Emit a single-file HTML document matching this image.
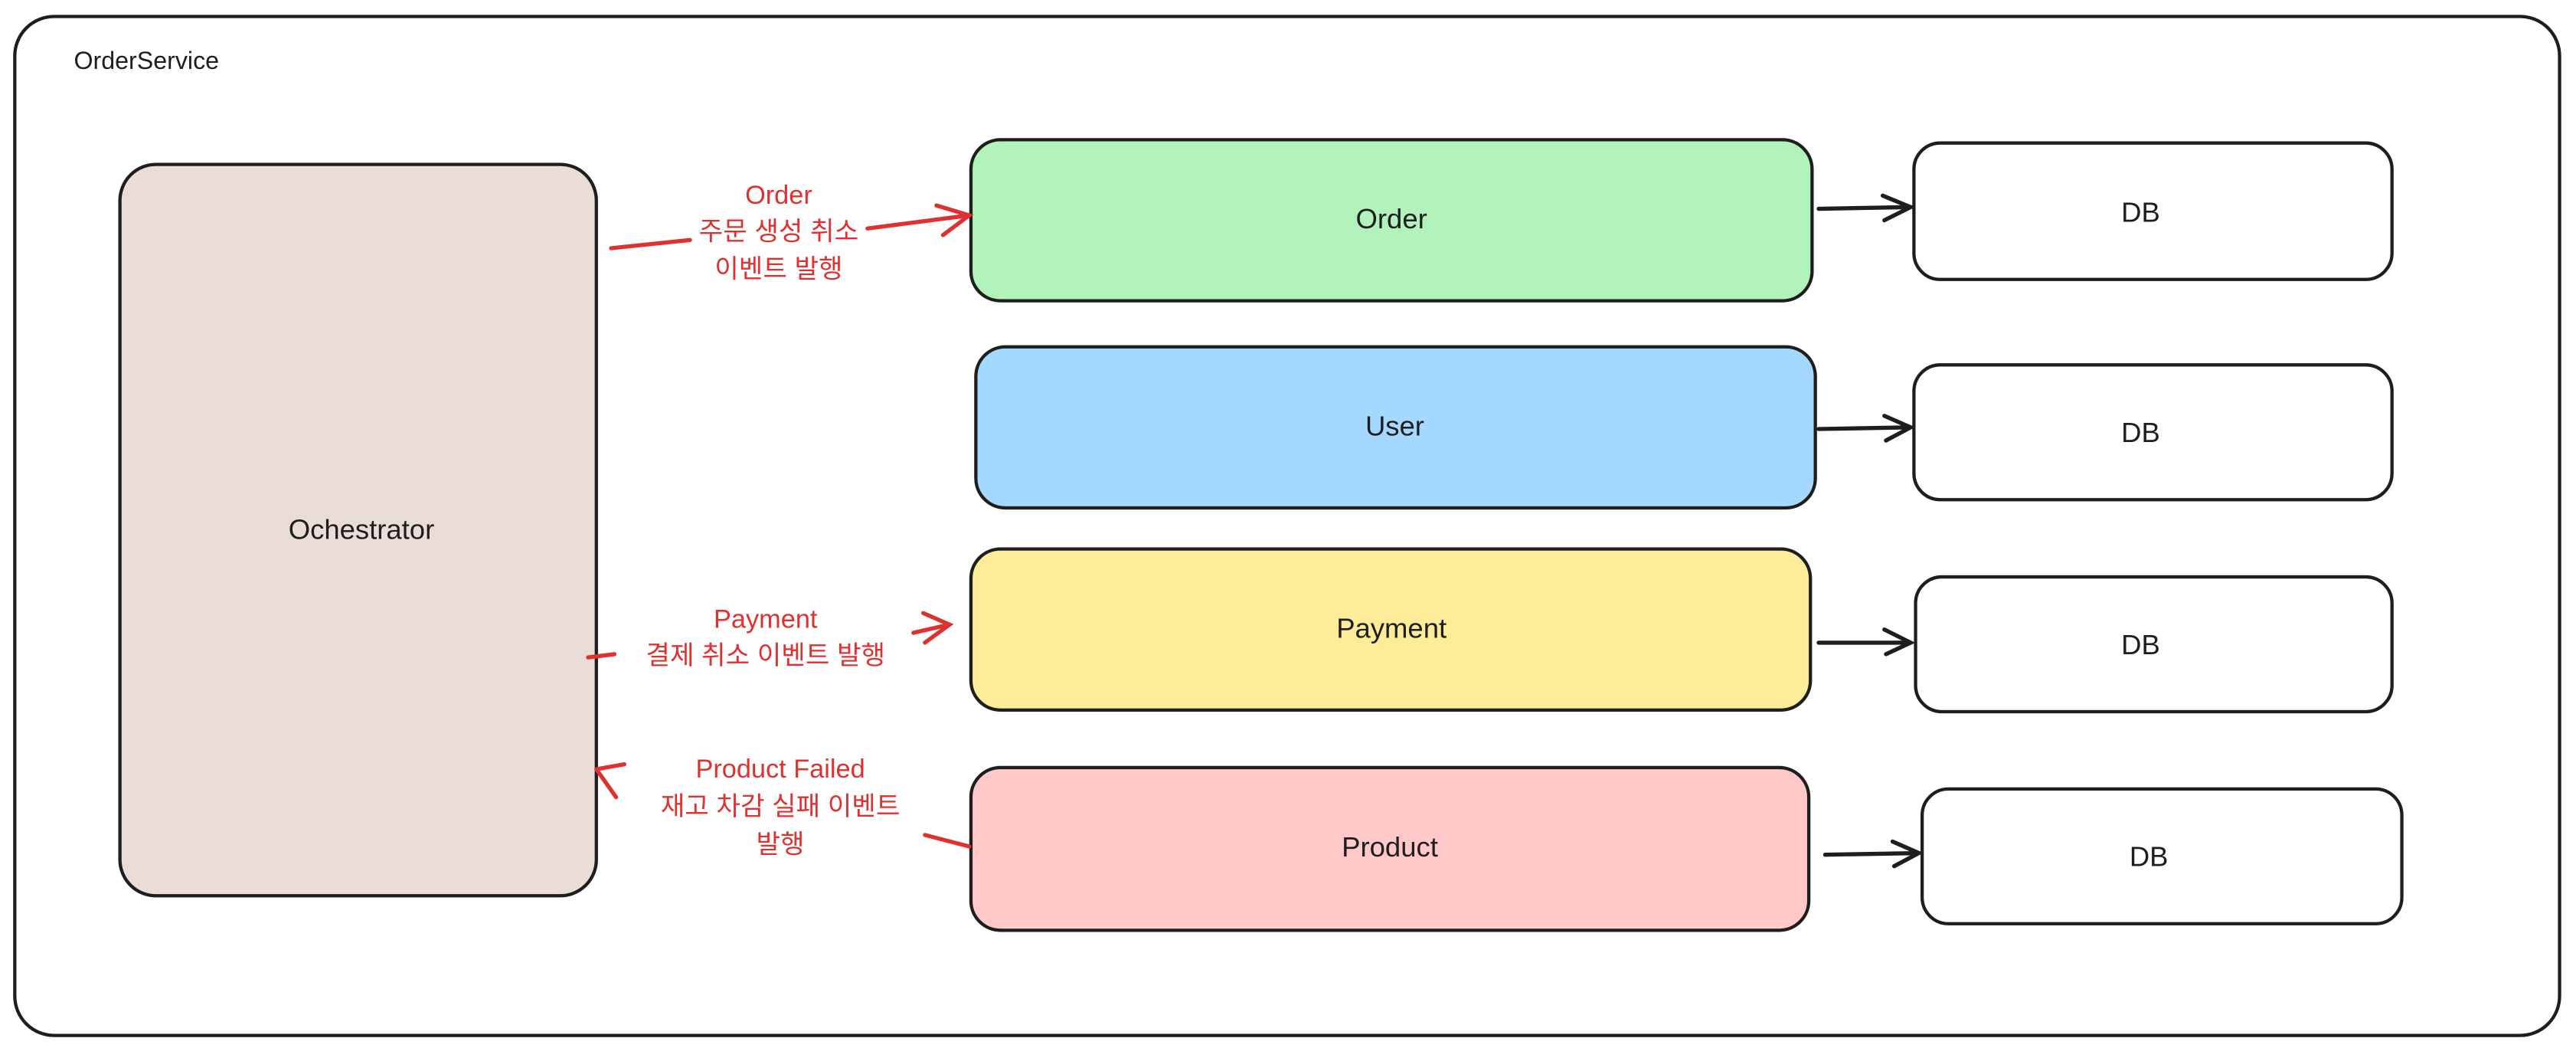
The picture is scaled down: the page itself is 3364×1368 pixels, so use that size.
<!DOCTYPE html>
<html><head><meta charset="utf-8"><style>
html,body{margin:0;padding:0;background:#fff;}
svg{display:block}
text{font-family:"Liberation Sans","Noto Sans CJK KR",sans-serif;}
</style></head><body>
<svg width="3364" height="1368" viewBox="0 0 1568 637.6" xmlns="http://www.w3.org/2000/svg">
<g fill="none" stroke="#1e1e1e" stroke-width="2">
<rect x="9" y="10" width="1549" height="620" rx="24" fill="#fff"/>
<rect x="73" y="100" width="290" height="445" rx="22" fill="#eaddd7"/>
<rect x="591" y="85" width="512" height="98" rx="18" fill="#b2f2bb"/>
<rect x="594" y="211" width="511" height="98" rx="18" fill="#a5d8ff"/>
<rect x="591" y="334" width="511" height="98" rx="18" fill="#ffec99"/>
<rect x="591" y="467" width="510" height="99" rx="18" fill="#ffc9c9"/>
<rect x="1165" y="87" width="291" height="83" rx="16" fill="#fff"/>
<rect x="1165" y="222" width="291" height="82" rx="16" fill="#fff"/>
<rect x="1166" y="351" width="290" height="82" rx="16" fill="#fff"/>
<rect x="1170" y="480" width="292" height="82" rx="16" fill="#fff"/>
</g>
<g fill="none" stroke="#1e1e1e" stroke-width="2.5" stroke-linecap="round">
<path d="M1107 127 L1163 126 M1146 119 L1163 126 L1147 134"/>
<path d="M1107 261 L1163 260 M1147 253 L1163 260 L1148 268"/>
<path d="M1107 391 L1163 391 M1147 383 L1163 391 L1148 398"/>
<path d="M1111 520 L1168 519 M1152 512 L1168 519 L1153 527"/>
</g>
<g fill="none" stroke="#e03131" stroke-width="2.5" stroke-linecap="round">
<path d="M372 151 L420 146 M528 139 L590 131 M570 125 L590 131 L574 143"/>
<path d="M358 400 L374 398 M556 385 L578 380 M562 373 L578 380 L563 391"/>
<path d="M590 515 L563 508 M363 468 L380 465 M363 468 L375 485"/>
</g>
<g font-size="17" fill="#1e1e1e" text-anchor="middle">
<text x="45" y="42" text-anchor="start" font-size="15">OrderService</text>
<text x="220" y="328">Ochestrator</text>
<text x="847" y="139">Order</text>
<text x="849" y="265">User</text>
<text x="847" y="388">Payment</text>
<text x="846" y="521">Product</text>
<text x="1303" y="135">DB</text>
<text x="1303" y="269">DB</text>
<text x="1303" y="398">DB</text>
<text x="1308" y="527">DB</text>
</g>
<g font-size="16" fill="#e03131" text-anchor="middle">
<text x="474" y="124">Order</text>
<text x="474" y="146">주문 생성 취소</text>
<text x="474" y="169">이벤트 발행</text>
<text x="466" y="382">Payment</text>
<text x="466" y="404">결제 취소 이벤트 발행</text>
<text x="475" y="473">Product Failed</text>
<text x="475" y="496">재고 차감 실패 이벤트</text>
<text x="475" y="519">발행</text>
</g>
</svg>
</body></html>
